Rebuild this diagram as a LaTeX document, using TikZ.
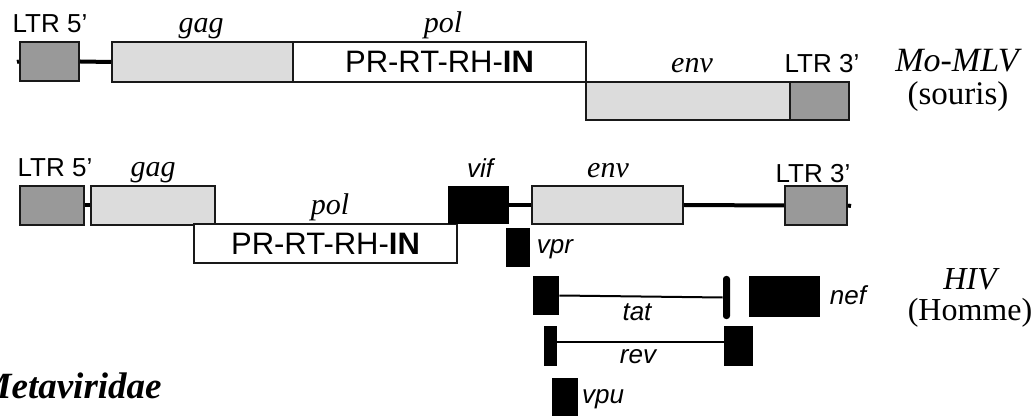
\documentclass[tikz,border=0pt]{standalone}
\usepackage{fontspec}
\setmainfont{Liberation Serif}
\setsansfont{Liberation Sans}
\usetikzlibrary{fit}
\definecolor{gris}{HTML}{999999}
\definecolor{grisclair}{HTML}{DCDCDC}
\tikzset{
  boite/.style={draw=black!90,line width=1pt,inner sep=0pt},
  ltr/.style={boite,fill=gris},
  gene/.style={boite,fill=grisclair},
  orf/.style={boite,fill=white},
  acc/.style={fill=black,inner sep=0pt},
  tige/.style={line width=2pt},
  fil/.style={line width=1pt},
  lab/.style={anchor=base,inner sep=0pt,font=\sffamily\fontsize{13}{15}\selectfont},
  gen/.style={anchor=base,inner sep=0pt,font=\itshape\fontsize{15}{17}\selectfont},
  sac/.style={anchor=base,inner sep=0pt,font=\sffamily\itshape\fontsize{13}{15}\selectfont},
  esp/.style={anchor=base,inner sep=0pt,font=\fontsize{16.5}{19}\selectfont},
}

\begin{document}
\begin{tikzpicture}[x=0.5pt,y=-0.5pt]
  \useasboundingbox (0,0) rectangle (1031,416);
  % Mo-MLV
  \node[ltr,fit={(20,42) (79,81)}] (ltrA) {};
  \node[gene,fit={(112,42) (293,82)}] (gagA) {};
  \node[orf,fit={(293,42) (586,82)}] (polA) {};
  \node[gene,fit={(586,82) (790,120)}] (envA) {};
  \node[ltr,fit={(790,82) (849,120)}] (ltrB) {};
  \coordinate (bordA) at (17,62);
  \draw[tige] (bordA) -- (ltrA.west);
  \draw[tige] (ltrA.east) -- (gagA.west);
  \node[font=\sffamily\fontsize{15.5}{18}\selectfont] (pA) at (polA.center) {PR-RT-RH-\textbf{IN}};
  \node[lab] (tA) at (50,33) {LTR 5’};
  \node[gen] (gA) at (201,33) {gag};
  \node[gen] (oA) at (443,33) {pol};
  \node[gen] (eA) at (692,73) {env};
  \node[lab] (tB) at (822,73) {LTR 3’};
  \node[esp,font=\itshape\fontsize{17}{19}\selectfont] (vA) at (957,72) {Mo-MLV};
  \node[esp] (hA) at (958,105) {(souris)};
  % HIV
  \node[ltr,fit={(20,186) (84,225)}] (ltrC) {};
  \node[gene,fit={(91,186) (215,225)}] (gagC) {};
  \node[orf,fit={(194,224) (457,263)}] (polC) {};
  \node[acc,fit={(448,186) (509,224)}] (vif) {};
  \node[gene,fit={(532,186) (683,224)}] (envC) {};
  \node[ltr,fit={(785,186) (847,225)}] (ltrD) {};
  \coordinate (bordD) at (851,206);
  \draw[tige] (ltrC.east) -- (gagC.west);
  \draw[tige] (vif.east) -- (envC.west);
  \draw[tige] (envC.east) -- (ltrD.west);
  \draw[tige] (ltrD.east) -- (bordD);
  \node[font=\sffamily\fontsize{15.5}{18}\selectfont] (pC) at (polC.center) {PR-RT-RH-\textbf{IN}};
  \node[lab] (tC) at (55,177) {LTR 5’};
  \node[gen] (gC) at (153,177) {gag};
  \node[gen] (oC) at (330,215) {pol};
  \node[sac] (fC) at (480,178) {vif};
  \node[gen] (eC) at (608,178) {env};
  \node[lab] (tD) at (813,183) {LTR 3’};
  % accessoires
  \node[acc,fit={(506,228) (530,267)}] (vpr) {};
  \node[sac] (rC) at (555,254) {vpr};
  \node[acc,fit={(533,276) (559,315)}] (tatA) {};
  \node[acc,rounded corners=1.5pt,fit={(723,276) (730,319)}] (tatB) {};
  \draw[fil] (tatA.east) -- (tatB.west);
  \node[sac] (aC) at (637,320) {tat};
  \node[acc,fit={(749,276) (820,317)}] (nef) {};
  \node[sac] (nC) at (848,305) {nef};
  \node[acc,fit={(544,326) (557,366)}] (revA) {};
  \node[acc,fit={(724,326) (753,366)}] (revB) {};
  \draw[fil] ([yshift=2pt]revA.east) -- ([yshift=2pt]revB.west);
  \node[sac] (vC) at (638,363) {rev};
  \node[acc,fit={(552,378) (578,418)}] (vpu) {};
  \node[sac] (uC) at (603,403) {vpu};
  \node[esp,font=\itshape\fontsize{16}{19}\selectfont] (vH) at (970,290) {HIV};
  \node[esp,font=\fontsize{16}{19}\selectfont] (hH) at (970,320) {(Homme)};
  \node[anchor=base east,inner sep=0pt,font=\bfseries\itshape\fontsize{18.5}{21}\selectfont] (meta) at (162,398) {Metaviridae};
\end{tikzpicture}
\end{document}
